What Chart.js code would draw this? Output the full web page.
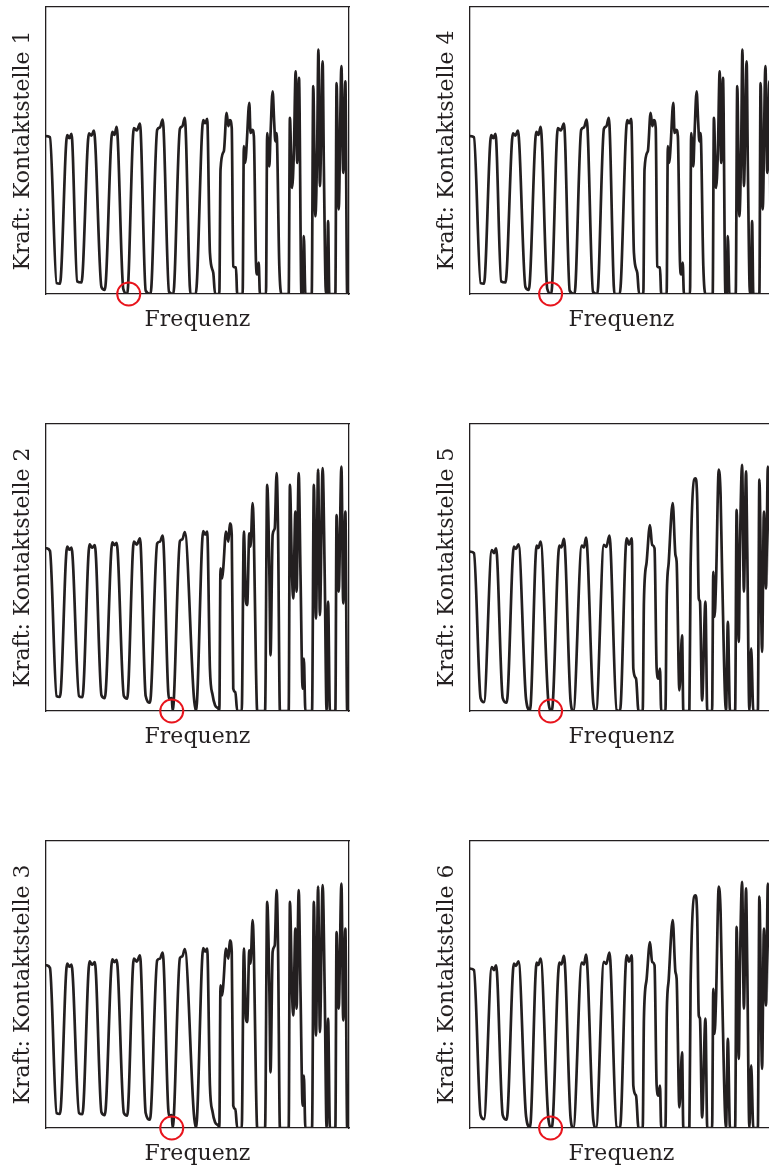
<!DOCTYPE html>
<html lang="de">
<head>
<meta charset="utf-8">
<title>Kraft an den Kontaktstellen</title>
<script src="https://cdn.jsdelivr.net/npm/chart.js@4.4.1/dist/chart.umd.min.js"></script>
<style>
    html, body {
        margin: 0;
        padding: 0;
        background: #ffffff;
        width: 769px;
        height: 1170px;
        overflow: hidden;
    }
    .panel {
        position: absolute;
        width: 360px;
        height: 340px;
    }
    .panel canvas { display: block; }
</style>
</head>
<body>

<div class="panel" style="left:0px;top:0px"><canvas id="kraft1" width="360" height="340"></canvas></div>
<div class="panel" style="left:0px;top:417px"><canvas id="kraft2" width="360" height="340"></canvas></div>
<div class="panel" style="left:0px;top:834px"><canvas id="kraft3" width="360" height="340"></canvas></div>
<div class="panel" style="left:424px;top:0px"><canvas id="kraft4" width="360" height="340"></canvas></div>
<div class="panel" style="left:424px;top:417px"><canvas id="kraft5" width="360" height="340"></canvas></div>
<div class="panel" style="left:424px;top:834px"><canvas id="kraft6" width="360" height="340"></canvas></div>

<script>
// ================= DATA =================
// frequency axis runs 0..100 (no units shown), force 0..100 (relative)

// curve shape A: Kontaktstelle 1 and 4
const freqA = [0.2,1.3,3.5,4.6,7.0,7.7,8.4,10.3,11.7,14.2,15.0,15.8,18.3,19.4,21.9,22.6,23.3,25.5,26.8,29.0,30.0,31.0,32.9,34.5,36.7,37.6,38.5,40.6,42.0,44.2,45.0,45.8,47.7,49.4,51.9,52.5,53.2,54.1,55.2,55.8,57.2,57.6,58.7,59.6,60.2,60.7,61.3,61.8,62.7,63.1,64.9,65.3,65.8,66.2,67.1,67.5,68.1,68.6,69.3,69.7,70.2,70.6,72.6,73.0,73.7,74.1,74.8,75.3,75.7,76.1,77.0,77.7,80.1,80.5,81.2,81.8,82.4,82.9,83.5,84.3,84.7,85.1,85.6,87.7,88.2,88.9,89.5,89.9,90.4,91.3,91.7,92.4,92.7,93.1,93.5,95.5,95.9,96.6,97.5,98.1,98.8,99.4,100];
const kraftA = [55.0,54.6,3.8,3.6,55.4,54.3,55.8,4.4,4.0,56.0,55.2,56.9,2.4,1.4,56.5,55.4,58.2,1.8,0,57.8,57.0,59.4,1.2,0,57.2,58.0,60.8,0.8,0,57.6,58.4,61.4,0,0,60.6,59.5,61.0,14.4,7.4,0,0,43.4,49.8,63.1,58.5,60.6,57.9,9.7,9.2,0,0,51.5,45.7,51.5,66.6,56.1,57.2,55.0,10.9,6.8,10.9,0,0,56.1,44.5,55.6,70.6,60.0,53.2,56.1,9.7,0,0,61.4,37.0,49.2,77.6,45.7,75.3,0,0,20.2,0,0,72.4,27.1,51.5,85.2,37.6,81.1,44.5,0,0,25.4,0,0,73.5,29.5,79.4,42.2,74.1,0,0];

// curve shape B: Kontaktstelle 2 and 3
const freqB = [0.2,1.3,3.5,4.6,7.0,7.7,8.4,10.9,12.0,14.4,15.2,16.1,18.3,19.4,21.9,22.6,23.3,25.7,26.8,29.0,30.0,31.0,32.9,34.3,36.7,37.6,38.5,40.6,41.5,41.8,44.2,45.0,45.8,48.8,49.5,51.9,52.5,53.2,54.1,55.0,55.8,56.9,57.2,57.6,58.1,58.5,59.4,60.2,60.7,61.3,61.8,62.5,63.1,64.6,65.3,66.0,66.4,67.1,67.5,68.2,68.6,69.3,69.7,72.3,73.0,73.7,74.1,74.8,75.5,76.1,76.6,77.2,80.1,80.5,81.2,81.6,82.3,82.7,83.4,84.0,84.7,85.1,85.6,87.8,88.4,89.1,89.8,90.4,91.3,92.0,92.6,93.1,93.7,95.5,95.9,96.6,97.5,98.1,98.8,99.4,100];
const kraftB = [56.7,55.8,5.2,4.9,57.3,56.2,56.9,5.2,4.8,58.1,56.9,57.8,5.5,4.5,58.8,57.8,58.6,5.2,4.3,59.0,58.0,60.2,5.2,2.9,58.4,59.0,61.1,4.3,4.5,0,59.2,59.8,62.3,4.9,0,62.7,61.5,62.5,14.8,5.5,2.0,0.8,0,49.7,46.2,49.7,62.5,59.0,65.4,61.4,7.8,6.6,0,0,62.5,38.1,36.9,61.9,57.3,72.4,61.4,14.8,0,0,78.8,49.7,19.4,61.4,63.7,82.9,61.4,0,0,78.8,47.4,39.2,69.5,41.6,82.9,47.4,7.8,18.3,0,0,78.8,32.2,84.1,33.4,84.6,46.2,0,38.1,0,0,68.3,41.6,85.2,37.5,69.5,0,0];

// curve shape C: Kontaktstelle 5 and 6
const freqC = [0.2,1.3,3.5,4.6,7.2,7.9,8.6,10.8,12.1,14.5,15.2,16.0,18.5,19.8,22.0,22.6,23.3,25.9,27.0,29.5,30.2,31.0,33.2,34.1,36.9,37.6,38.3,40.7,41.6,44.2,45.0,46.0,48.4,49.5,51.7,52.5,53.4,53.9,54.8,55.6,57.0,57.4,58.3,59.4,60.1,60.9,61.6,62.2,62.7,63.1,64.5,64.9,65.6,66.9,67.8,68.2,69.1,70.0,70.4,72.4,72.8,74.4,75.0,75.5,75.9,76.6,77.7,78.3,79.9,80.3,80.7,81.2,82.1,82.7,83.2,84.5,85.1,85.8,87.5,88.0,88.7,89.1,89.8,90.4,91.1,91.5,92.2,92.8,93.5,95.0,95.5,96.4,97.0,97.7,98.3,99.0,99.7];
const kraftC = [55.5,55.0,4.5,3.1,56.1,55.0,56.7,4.5,2.9,57.3,56.5,58.1,4.1,0.3,57.6,56.8,59.0,2.9,0,57.6,57.0,60.0,3.4,0,57.6,57.0,60.4,2.6,0,57.9,57.2,61.1,0.3,0,60.2,58.0,60.2,14.8,11.3,0,0,38.1,52.0,64.8,57.9,56.7,14.8,11.3,14.8,0,0,38.1,52.0,72.4,54.4,52.0,7.2,26.4,0,0,49.7,81.1,73.0,39.2,38.1,3.7,38.1,0,0,48.5,32.8,45.1,84.1,75.3,48.5,0,31.1,0,0,70.1,24.1,56.7,85.8,41.6,83.5,56.7,0,21.8,0,0,80.6,20.6,69.5,42.7,85.2,56.7,0];

// panel labels and the frequency of the red marker circle
const contactLabels = ["Kraft: Kontaktstelle 1","Kraft: Kontaktstelle 2","Kraft: Kontaktstelle 3",
                       "Kraft: Kontaktstelle 4","Kraft: Kontaktstelle 5","Kraft: Kontaktstelle 6"];
const markerFreq = [27.3, 41.5, 41.5, 26.6, 26.6, 26.6];
const xLabel = "Frequenz";

// ================= CHART HELPERS =================
const ink = "#231f20";
const markRed = "#e8141c";
const serif = "'DejaVu Serif', 'Liberation Serif', serif";

function toPoints(xs, ys) {
    return xs.map((x, i) => ({ x: x, y: ys[i] }));
}

function frameAxis(position) {
    return {
        type: "linear",
        position: position,
        min: 0,
        max: 100,
        grid: { display: false, drawTicks: false },
        ticks: { display: false },
        border: { display: true, color: ink, width: 1.3 }
    };
}

function makePanel(canvasId, xs, ys, label, marker) {
    const ctx = document.getElementById(canvasId);
    if (!ctx) return;

    const xAxis = frameAxis("bottom");
    xAxis.title = {
        display: true,
        text: xLabel,
        color: ink,
        font: { family: serif, size: 22 },
        padding: { top: 13, bottom: 0 }
    };
    const yAxis = frameAxis("left");
    yAxis.title = {
        display: true,
        text: label,
        color: ink,
        font: { family: serif, size: 22 },
        padding: { top: 9.8, bottom: 9.8 }
    };

    new Chart(ctx, {
        type: "line",
        data: {
            datasets: [
                {
                    // red circle marking the resonance point
                    type: "scatter",
                    data: [{ x: marker, y: 0 }],
                    showLine: false,
                    pointRadius: 11.5,
                    pointBorderWidth: 2,
                    pointBorderColor: markRed,
                    pointBackgroundColor: "rgba(0,0,0,0)",
                    clip: false,
                    xAxisID: "x",
                    yAxisID: "y"
                },
                {
                    data: toPoints(xs, ys),
                    borderColor: ink,
                    borderWidth: 2.7,
                    borderJoinStyle: "round",
                    borderCapStyle: "round",
                    cubicInterpolationMode: "monotone",
                    pointRadius: 0,
                    fill: false,
                    xAxisID: "x",
                    yAxisID: "y"
                }
            ]
        },
        options: {
            responsive: false,
            animation: false,
            events: [],
            devicePixelRatio: 1,
            layout: {
                autoPadding: false,
                padding: { top: 7, right: 11, bottom: 6.6, left: 0 }
            },
            plugins: {
                legend: { display: false },
                tooltip: { enabled: false }
            },
            scales: {
                x: xAxis,
                xTop: frameAxis("top"),
                y: yAxis,
                yRight: frameAxis("right")
            }
        }
    });
}

// ================= PANELS =================
makePanel("kraft1", freqA, kraftA, contactLabels[0], markerFreq[0]);
makePanel("kraft2", freqB, kraftB, contactLabels[1], markerFreq[1]);
makePanel("kraft3", freqB, kraftB, contactLabels[2], markerFreq[2]);
makePanel("kraft4", freqA, kraftA, contactLabels[3], markerFreq[3]);
makePanel("kraft5", freqC, kraftC, contactLabels[4], markerFreq[4]);
makePanel("kraft6", freqC, kraftC, contactLabels[5], markerFreq[5]);
</script>
</body>
</html>
